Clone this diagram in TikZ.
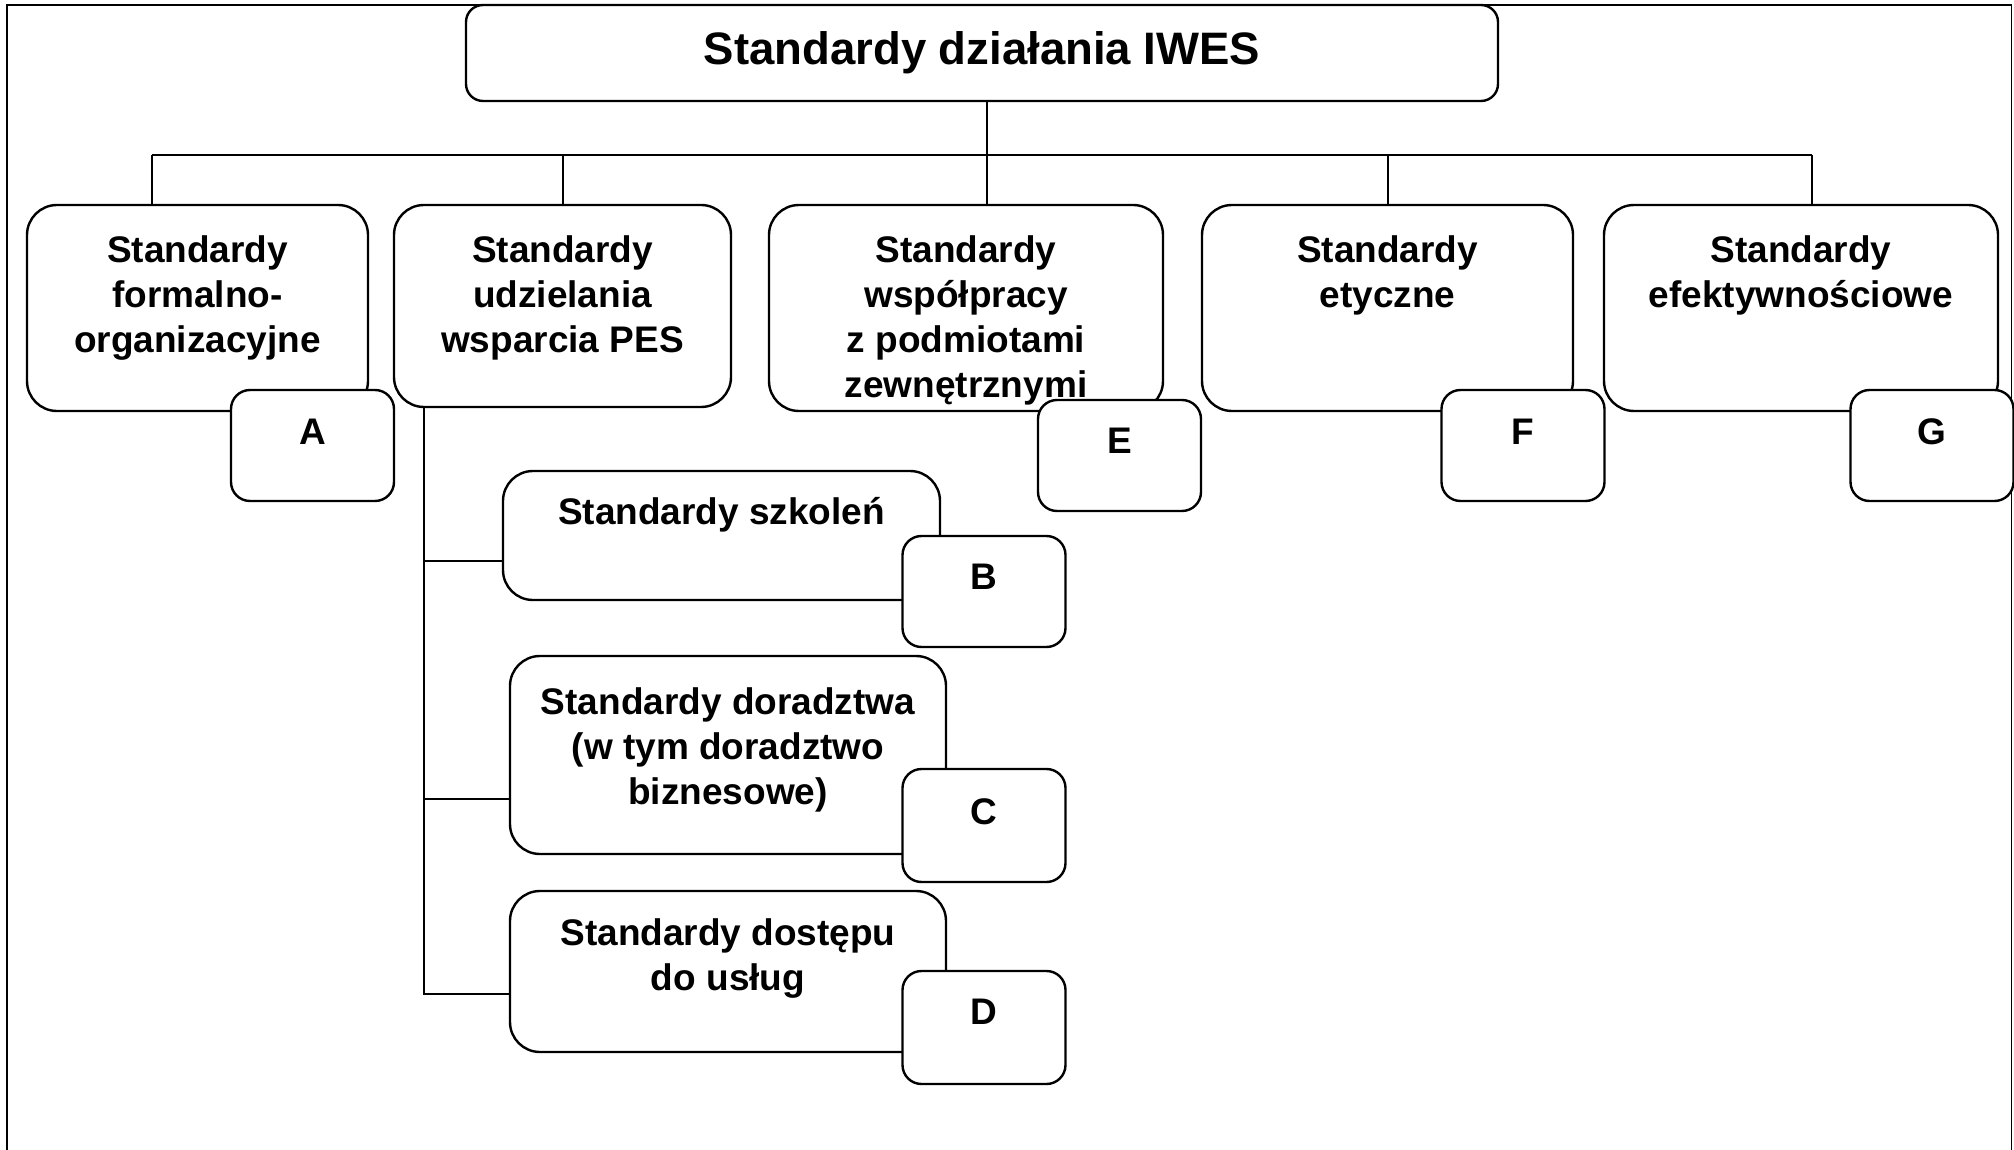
\documentclass[tikz,border=0pt]{standalone}
\usepackage{fontspec}
\setmainfont{Liberation Sans}
\begin{document}
\begin{tikzpicture}[x=0.5pt,y=-0.5pt,
  box/.style={draw, line width=1.2pt, fill=white, rounded corners=15pt, inner sep=0pt},
  badge/.style={draw, line width=1.2pt, fill=white, rounded corners=9.5pt, inner sep=0pt, minimum width=81.5pt, minimum height=55.5pt},
  txt/.style={font=\bfseries\fontsize{18.5}{22.5}\selectfont, align=center, inner sep=0pt, anchor=north},
  lett/.style={font=\bfseries\fontsize{18.5}{22.5}\selectfont, inner sep=0pt},
  conn/.style={line width=1pt},
  frame/.style={line width=0.9pt}]
\useasboundingbox (0,0) rectangle (2014,1150);
% frame
\draw[frame] (7,1150) -- (7,5) -- (2011.5,5) -- (2011.5,1150);
% boxes
\node[box, rounded corners=8.5pt, minimum width=516pt, minimum height=48pt] (top) at (982,53) {};
\node[box, minimum width=170.5pt, minimum height=103pt] (b1) at (197.5,308) {};
\node[box, minimum width=168.5pt, minimum height=101pt] (b2) at (562.5,306) {};
\node[box, minimum width=197pt, minimum height=103pt] (b3) at (966,308) {};
\node[box, minimum width=185.5pt, minimum height=103pt] (b4) at (1387.5,308) {};
\node[box, minimum width=197pt, minimum height=103pt] (b5) at (1801,308) {};
\node[box, minimum width=218.5pt, minimum height=64.5pt] (sB) at (721.5,535.5) {};
\node[box, minimum width=218pt, minimum height=99pt] (sC) at (728,755) {};
\node[box, minimum width=218pt, minimum height=80.5pt] (sD) at (728,971.5) {};
% badges
\node[badge] (bA) at (312.5,445.5) {};
\node[badge] (bE) at (1119.5,455.5) {};
\node[badge] (bF) at (1523,445.5) {};
\node[badge] (bG) at (1932,445.5) {};
\node[badge] (bB) at (984,591.5) {};
\node[badge, minimum height=56.5pt] (bC) at (984,825.5) {};
\node[badge, minimum height=56.5pt] (bD) at (984,1027.5) {};
% texts
\node[txt, font=\bfseries\fontsize{22.75}{27}\selectfont] (ttop) at (982,31.5) {Standardy działania IWES};
\node[txt] (t1) at (197.5,235) {Standardy\\formalno-\\organizacyjne};
\node[txt] (t2) at (562.5,235) {Standardy\\udzielania\\wsparcia PES};
\node[txt] (t3) at (966,235) {Standardy\\współpracy\\z podmiotami\\zewnętrznymi};
\node[txt] (t4) at (1387.5,235) {Standardy\\etyczne};
\node[txt] (t5) at (1801,235) {Standardy\\efektywnościowe};
\node[txt] (tB) at (721.5,497) {Standardy szkoleń};
\node[txt] (tC) at (728,687) {Standardy doradztwa\\(w tym doradztwo\\biznesowe)};
\node[txt] (tD) at (728,918) {Standardy dostępu\\do usług};
\node[lett] (lA) at ([yshift=-21.5pt]bA.north) {A};
\node[lett] (lE) at ([yshift=-21pt]bE.north) {E};
\node[lett] (lF) at ([yshift=-21.5pt]bF.north) {F};
\node[lett] (lG) at ([yshift=-21.5pt]bG.north) {G};
\node[lett] (lB) at ([yshift=-21pt]bB.north) {B};
\node[lett] (lC) at ([yshift=-22pt]bC.north) {C};
\node[lett] (lD) at ([yshift=-21pt]bD.north) {D};
% connectors
\coordinate (bL) at (152,155);
\coordinate (bR) at (1812,155);
\coordinate (tj) at (987,155);
\draw[conn] (bL) -- (bR);
\draw[conn] (top.south -| tj) -- (tj) -- (b3.north -| tj);
\draw[conn] (bL) -- (bL |- b1.north);
\draw[conn] (b2.north |- bL) -- (b2.north);
\draw[conn] (b4.north |- bL) -- (b4.north);
\draw[conn] (bR) -- (bR |- b5.north);
\coordinate (vB) at (424,561);
\coordinate (vC) at (424,799);
\coordinate (vD) at (424,994);
\draw[conn] (b2.south -| vD) -- (vD) -- (sD.west |- vD);
\draw[conn] (vB) -- (sB.west |- vB);
\draw[conn] (vC) -- (sC.west |- vC);
\end{tikzpicture}
\end{document}
